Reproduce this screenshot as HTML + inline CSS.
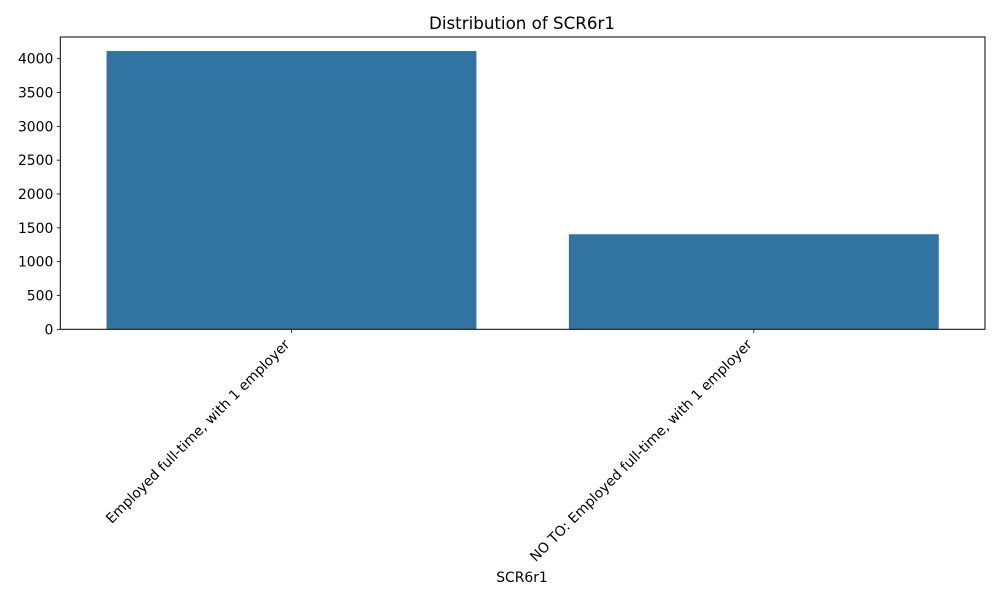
<!DOCTYPE html>
<html><head><meta charset="utf-8"><style>
body{margin:0;background:#fff;}
svg text{font-family:"DejaVu Sans","Liberation Sans",sans-serif;fill:#000;}
</style></head><body>
<svg width="1000" height="600" viewBox="0 0 1000 600" xmlns="http://www.w3.org/2000/svg">
<text x="522" y="29" font-size="16.7" text-anchor="middle">Distribution of SCR6r1</text>
<g id="plot"></g>
<text x="522" y="582" font-size="13.9" text-anchor="middle">SCR6r1</text>
</svg>
<script>
const categories = ["Employed full-time, with 1 employer", "NO TO: Employed full-time, with 1 employer"];
const counts = [4113, 1405];
const yTicks = [0, 500, 1000, 1500, 2000, 2500, 3000, 3500, 4000];

const L = 60.3, R = 985, T = 37, B = 329.3;
const yScale = v => B - v * (B - 58.7) / 4000;
const band = (R - L) / categories.length;
const xCenter = i => L + band * (i + 0.5);
const g = document.getElementById('plot');
const NS = 'http://www.w3.org/2000/svg';
function mk(tag, attrs) { const e = document.createElementNS(NS, tag); for (const k in attrs) e.setAttribute(k, attrs[k]); g.appendChild(e); return e; }

counts.forEach((v, i) => {
  const bw = band * 0.8;
  const r = mk('rect', {x: xCenter(i) - bw / 2, y: yScale(v), width: bw, height: B - yScale(v), fill: '#3274a1'});
  
  
});

yTicks.forEach(t => {
  const y = yScale(t);
  const l = mk('line', {x1: L - 3.5, x2: L, y1: y, y2: y, stroke: '#000', 'stroke-width': 0.8});
  
  
  const tx = mk('text', {x: L - 7, y: y + 5, 'font-size': 13.9, 'text-anchor': 'end'});
  tx.textContent = t;
  
  
});

categories.forEach((c, i) => {
  const x = xCenter(i);
  const l = mk('line', {x1: x, x2: x, y1: B, y2: B + 3.5, stroke: '#000', 'stroke-width': 0.8});
  
  
  const ax = x - 1, ay = B + 16;
  const tx = mk('text', {x: ax, y: ay, 'font-size': 13.9, 'text-anchor': 'end', transform: `rotate(-45 ${ax} ${ay})`});
  tx.textContent = c;
  
  
});

const frame = mk('rect', {x: L, y: T, width: R - L, height: B - T, fill: 'none', stroke: '#000', 'stroke-width': 1});


</script>
</body></html>
